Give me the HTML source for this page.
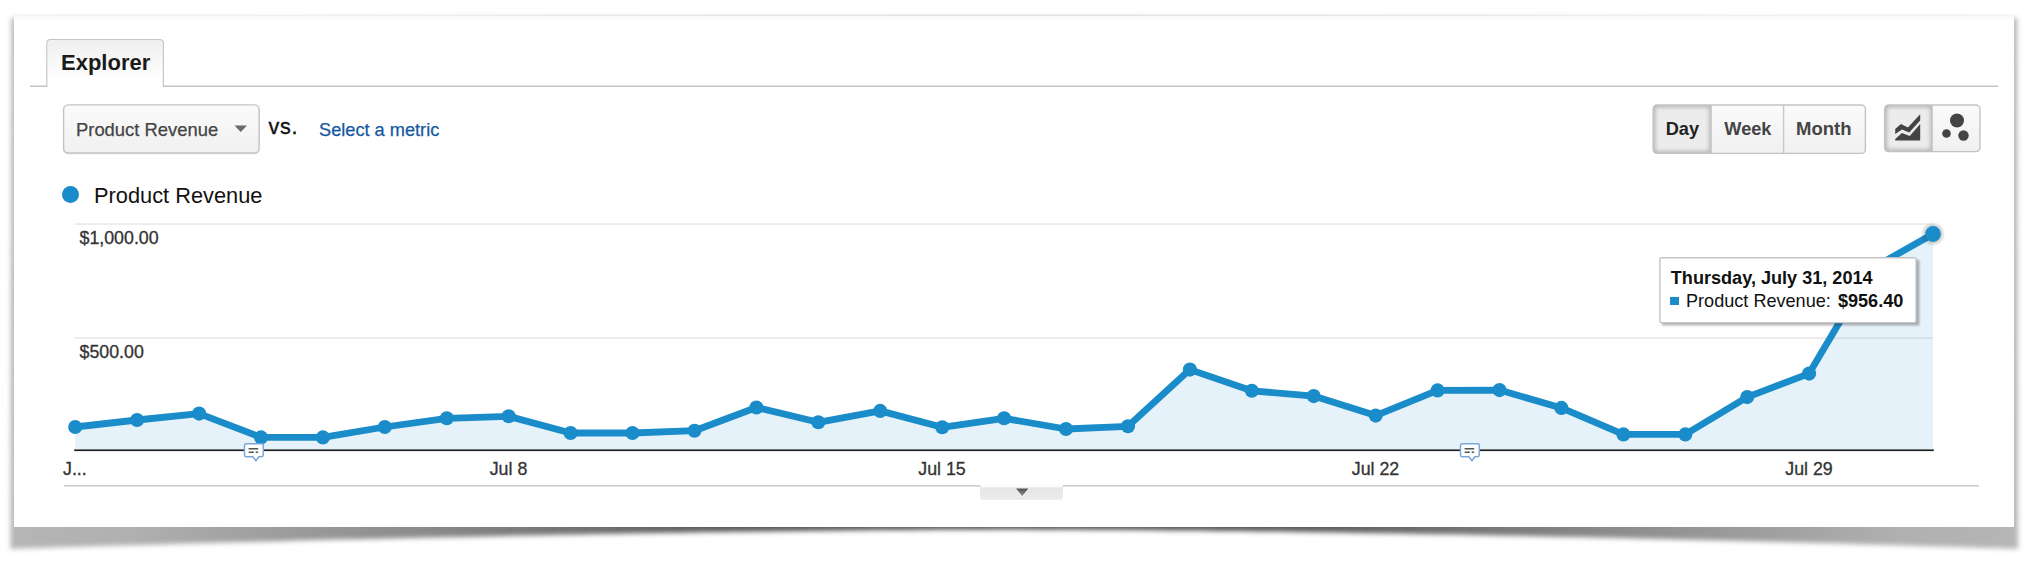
<!DOCTYPE html>
<html><head><meta charset="utf-8"><title>Explorer</title>
<style>
*{box-sizing:border-box;margin:0;padding:0}
html,body{width:2030px;height:566px;background:#fff;overflow:hidden;font-family:"Liberation Sans",sans-serif;color:#222}
.abs{position:absolute}
#sheet{position:absolute;left:14px;top:16.5px;width:2000.3px;height:510.5px;background:#fff;z-index:2}
#shwrap{position:absolute;left:0;top:0;width:2030px;height:566px;z-index:1}
.t{position:absolute;white-space:nowrap;line-height:1}
</style></head><body>
<svg id="shwrap" width="2030" height="566" viewBox="0 0 2030 566">
<defs>
<filter id="bl" x="-5%" y="-50%" width="110%" height="200%"><feGaussianBlur stdDeviation="2.5"/></filter>
<filter id="bl2" x="-5%" y="-50%" width="110%" height="200%"><feGaussianBlur stdDeviation="1.2"/></filter>
<linearGradient id="sg" x1="9" y1="0" x2="2020" y2="0" gradientUnits="userSpaceOnUse">
<stop offset="0" stop-color="#b6b6b6"/><stop offset=".06" stop-color="#b0b0b0"/><stop offset=".2" stop-color="#8c8c8c"/><stop offset=".35" stop-color="#5c5c5c"/><stop offset=".5" stop-color="#4a4a4a"/><stop offset=".65" stop-color="#5c5c5c"/><stop offset=".8" stop-color="#8c8c8c"/><stop offset=".94" stop-color="#b0b0b0"/><stop offset="1" stop-color="#b6b6b6"/>
</linearGradient>
</defs>
<path d="M11.5,18 L2017,18 L2018,548.9 L2000,548.3 L1980,547.7 L1960,547.1 L1940,546.5 L1920,545.9 L1900,545.3 L1880,544.7 L1860,544.2 L1840,543.6 L1820,543.1 L1800,542.5 L1780,542.0 L1760,541.5 L1740,540.9 L1720,540.4 L1700,539.9 L1680,539.4 L1660,539.0 L1640,538.5 L1620,538.0 L1600,537.6 L1580,537.1 L1560,536.7 L1540,536.3 L1520,535.8 L1500,535.4 L1480,535.0 L1460,534.6 L1440,534.3 L1420,533.9 L1400,533.5 L1380,533.2 L1360,532.9 L1340,532.5 L1320,532.2 L1300,531.9 L1280,531.6 L1260,531.4 L1240,531.1 L1220,530.9 L1200,530.6 L1180,530.4 L1160,530.2 L1140,530.0 L1120,529.8 L1100,529.7 L1080,529.6 L1060,529.4 L1040,529.4 L1020,529.3 L1000,529.3 L980,529.4 L960,529.5 L940,529.6 L920,529.7 L900,529.9 L880,530.1 L860,530.3 L840,530.5 L820,530.7 L800,530.9 L780,531.2 L760,531.5 L740,531.8 L720,532.0 L700,532.3 L680,532.7 L660,533.0 L640,533.3 L620,533.7 L600,534.0 L580,534.4 L560,534.8 L540,535.2 L520,535.6 L500,536.0 L480,536.4 L460,536.9 L440,537.3 L420,537.7 L400,538.2 L380,538.7 L360,539.2 L340,539.6 L320,540.1 L300,540.6 L280,541.2 L260,541.7 L240,542.2 L220,542.7 L200,543.3 L180,543.8 L160,544.4 L140,545.0 L120,545.6 L100,546.1 L80,546.7 L60,547.3 L40,547.9 L20,548.6 L10.5,548.9 Z" fill="url(#sg)" filter="url(#bl)"/>
<rect x="14" y="16" width="2000" height="4" fill="#fafafa"/>
</svg>
<div id="sheet"><div style="position:absolute;left:0;top:-.5px;width:100%;height:4px;background:linear-gradient(#f8f8f8,#fcfcfc)"></div></div>
<div style="position:absolute;left:0;top:0;width:2030px;height:566px;z-index:3">
<svg class="abs" style="left:0;top:0" width="2030" height="566" viewBox="0 0 2030 566">
<defs>
<linearGradient id="bg" x1="0" y1="0" x2="0" y2="1"><stop offset="0" stop-color="#fbfbfb"/><stop offset="1" stop-color="#f0f0f0"/></linearGradient>
<linearGradient id="tg" x1="0" y1="0" x2="0" y2="1"><stop offset="0" stop-color="#efefef"/><stop offset=".85" stop-color="#fff"/></linearGradient>
<filter id="ib" x="-20%" y="-20%" width="140%" height="140%"><feGaussianBlur stdDeviation="2.3"/></filter>
<clipPath id="o1"><rect x="1653.1" y="105" width="212.3" height="48.4" rx="4"/></clipPath>
<clipPath id="s1"><rect x="1653.1" y="105" width="58.4" height="48.4"/></clipPath>
<clipPath id="o2"><rect x="1884.6" y="105" width="95.4" height="46.6" rx="4"/></clipPath>
<clipPath id="s2"><rect x="1884.6" y="105" width="48" height="46.6"/></clipPath>
</defs>
<path d="M30,86.2 H46.9 V43.4 Q46.9,39.6 50.7,39.6 H159.5 Q163.3,39.6 163.3,43.4 V86.2 H1998.2" fill="none" stroke="#c4c4c4" stroke-width="1.4"/>
<path d="M47.6,87 V43.4 Q47.6,40.3 50.7,40.3 H159.5 Q162.6,40.3 162.6,43.4 V87Z" fill="url(#tg)"/>

<rect x="63.6" y="105.6" width="195.5" height="48.1" rx="4.5" fill="none" stroke="#000" stroke-opacity=".07" stroke-width="1.4"/>
<rect x="63.6" y="104.9" width="195.5" height="48.1" rx="4.5" fill="url(#bg)" stroke="#c3c3c3" stroke-width="1.4"/>

<rect x="1653.1" y="105" width="212.3" height="48.4" rx="4" fill="url(#bg)"/>
<g clip-path="url(#o1)"><g clip-path="url(#s1)">
<rect x="1653.1" y="105" width="58.4" height="48.4" fill="#ececec"/>
<rect x="1653.1" y="105" width="58.4" height="48.4" fill="none" stroke="#000" stroke-opacity=".3" stroke-width="3.6" filter="url(#ib)"/>
</g></g>
<rect x="1710.3" y="105" width="1.3" height="48.4" fill="#c6c6c6"/>
<rect x="1782.9" y="105" width="1.4" height="48.4" fill="#c8c8c8"/>
<rect x="1653.1" y="105" width="212.3" height="48.4" rx="4" fill="none" stroke="#c3c3c3" stroke-width="1.4"/>

<rect x="1884.6" y="105" width="95.4" height="46.6" rx="4" fill="url(#bg)"/>
<g clip-path="url(#o2)"><g clip-path="url(#s2)">
<rect x="1884.6" y="105" width="48" height="46.6" fill="#ececec"/>
<rect x="1884.6" y="105" width="48" height="46.6" fill="none" stroke="#000" stroke-opacity=".3" stroke-width="3.6" filter="url(#ib)"/>
</g></g>
<rect x="1931.4" y="105" width="1.3" height="46.6" fill="#c6c6c6"/>
<rect x="1884.6" y="105" width="95.4" height="46.6" rx="4" fill="none" stroke="#c3c3c3" stroke-width="1.4"/>
</svg>
<div class="t" style="left:61px;top:52px;font-size:22px;font-weight:bold;color:#1a1a1a">Explorer</div>

<div class="t" style="left:76px;top:121px;font-size:18.4px;color:#444;-webkit-text-stroke:.25px #444">Product Revenue</div>
<svg class="abs" style="left:234.4px;top:125.3px" width="14" height="9"><path d="M0.5,0.5 L13,0.5 L6.75,7.1Z" fill="#6a6a6a"/></svg>
<div class="t" style="left:268.6px;top:116.3px;font-size:21.6px;color:#111;letter-spacing:.7px;-webkit-text-stroke:.35px #111">vs.</div>
<div class="t" style="left:319px;top:121px;font-size:18.2px;color:#15589f;-webkit-text-stroke:.25px #15589f">Select a metric</div>

<div class="t" style="left:1665.7px;top:120.4px;font-size:18.2px;font-weight:bold;color:#222">Day</div>
<div class="t" style="left:1724.3px;top:120.4px;font-size:18.2px;font-weight:bold;color:#444">Week</div>
<div class="t" style="left:1796px;top:120.4px;font-size:18.5px;font-weight:bold;color:#444">Month</div>

<svg class="abs" style="left:1894px;top:113px" width="30" height="30" viewBox="0 0 30 30">
 <path d="M1.2,15.9 L7,11.1 L13.9,14.4 L26.2,1.3 L26.2,7.5 L15.2,19.6 L8,16.5 L1.2,21Z M1.2,26.1 L8,20 L15.7,23.1 L26.2,10.9 L26.2,27.5 L1.2,27.5Z" fill="#444"/>
</svg>
<svg class="abs" style="left:1940px;top:112px" width="32" height="32" viewBox="0 0 32 32">
 <circle cx="17" cy="8.5" r="7" fill="#444"/><circle cx="6.5" cy="21.5" r="4.3" fill="#444"/><circle cx="23.5" cy="23.5" r="5.2" fill="#444"/>
</svg>

<div class="abs" style="left:62px;top:186px;width:17px;height:17px;border-radius:50%;background:#1a8cc9"></div>
<div class="t" style="left:94px;top:184.7px;font-size:21.8px;color:#111">Product Revenue</div>

<svg class="abs" style="left:0;top:0" width="2030" height="566" viewBox="0 0 2030 566">
 <rect x="74.5" y="223.3" width="1858.5" height="1.5" fill="#e8e8e8"/>
 <rect x="74.5" y="337.3" width="1858.5" height="1.5" fill="#e8e8e8"/>
 <polygon points="75.2,450 75.2,427 137.1,420 199.1,413.6 261.0,437.4 322.9,437.4 384.8,427 446.8,418.3 508.7,416.3 570.6,433 632.5,433 694.5,430.7 756.4,407.5 818.3,422.3 880.2,410.9 942.2,427.3 1004.1,418.3 1066.0,429 1128.0,426.3 1189.9,369.6 1251.8,390.8 1313.7,396.1 1375.7,415.6 1437.6,390.4 1499.5,390.1 1561.4,407.9 1623.4,434.4 1685.3,434.4 1747.2,397.1 1809.1,373.6 1871.1,269 1933.0,234 1933.0,450" fill="#1a8cc9" fill-opacity=".11"/>
 <rect x="74.2" y="449.4" width="1859.6" height="1.7" fill="#222"/>
 <rect x="64" y="485.1" width="1915" height="1.5" fill="#cbcbcb"/>
 <polyline points="75.2,427 137.1,420 199.1,413.6 261.0,437.4 322.9,437.4 384.8,427 446.8,418.3 508.7,416.3 570.6,433 632.5,433 694.5,430.7 756.4,407.5 818.3,422.3 880.2,410.9 942.2,427.3 1004.1,418.3 1066.0,429 1128.0,426.3 1189.9,369.6 1251.8,390.8 1313.7,396.1 1375.7,415.6 1437.6,390.4 1499.5,390.1 1561.4,407.9 1623.4,434.4 1685.3,434.4 1747.2,397.1 1809.1,373.6 1871.1,269 1933.0,234" fill="none" stroke="#1a8cc9" stroke-width="6.8" stroke-linejoin="round" stroke-linecap="round"/>
 <g fill="#1a8cc9"><circle cx="75.2" cy="427" r="7.05"/><circle cx="137.1" cy="420" r="7.05"/><circle cx="199.1" cy="413.6" r="7.05"/><circle cx="261.0" cy="437.4" r="7.05"/><circle cx="322.9" cy="437.4" r="7.05"/><circle cx="384.8" cy="427" r="7.05"/><circle cx="446.8" cy="418.3" r="7.05"/><circle cx="508.7" cy="416.3" r="7.05"/><circle cx="570.6" cy="433" r="7.05"/><circle cx="632.5" cy="433" r="7.05"/><circle cx="694.5" cy="430.7" r="7.05"/><circle cx="756.4" cy="407.5" r="7.05"/><circle cx="818.3" cy="422.3" r="7.05"/><circle cx="880.2" cy="410.9" r="7.05"/><circle cx="942.2" cy="427.3" r="7.05"/><circle cx="1004.1" cy="418.3" r="7.05"/><circle cx="1066.0" cy="429" r="7.05"/><circle cx="1128.0" cy="426.3" r="7.05"/><circle cx="1189.9" cy="369.6" r="7.05"/><circle cx="1251.8" cy="390.8" r="7.05"/><circle cx="1313.7" cy="396.1" r="7.05"/><circle cx="1375.7" cy="415.6" r="7.05"/><circle cx="1437.6" cy="390.4" r="7.05"/><circle cx="1499.5" cy="390.1" r="7.05"/><circle cx="1561.4" cy="407.9" r="7.05"/><circle cx="1623.4" cy="434.4" r="7.05"/><circle cx="1685.3" cy="434.4" r="7.05"/><circle cx="1747.2" cy="397.1" r="7.05"/><circle cx="1809.1" cy="373.6" r="7.05"/><circle cx="1871.1" cy="269" r="7.05"/></g>
 <circle cx="1933.0" cy="234" r="10.6" fill="#333" opacity=".2" filter="url(#bl2)"/>
 <circle cx="1933.0" cy="234" r="7.9" fill="#1a8cc9"/>
 <rect x="1662" y="260" width="257.3" height="65.4" fill="#000" opacity=".3" filter="url(#bl2)"/>
 <rect x="1659.9" y="257.7" width="256.2" height="64.9" rx="1.5" fill="#fff" stroke="#c4c4c4" stroke-width="1.4"/>
</svg>
<div class="t" style="left:79.5px;top:230.3px;font-size:17.8px;color:#333;-webkit-text-stroke:.3px #333">$1,000.00</div>
<div class="t" style="left:79.5px;top:344px;font-size:17.8px;color:#333;-webkit-text-stroke:.3px #333">$500.00</div>
<div class="t" style="left:63px;top:460.8px;font-size:17.8px;color:#333;-webkit-text-stroke:.3px #333">J...</div>
<div class="t" style="left:508.5px;top:460.8px;font-size:17.8px;color:#333;-webkit-text-stroke:.3px #333;transform:translateX(-50%)">Jul 8</div>
<div class="t" style="left:942px;top:460.8px;font-size:17.8px;color:#333;-webkit-text-stroke:.3px #333;transform:translateX(-50%)">Jul 15</div>
<div class="t" style="left:1375.5px;top:460.8px;font-size:17.8px;color:#333;-webkit-text-stroke:.3px #333;transform:translateX(-50%)">Jul 22</div>
<div class="t" style="left:1809px;top:460.8px;font-size:17.8px;color:#333;-webkit-text-stroke:.3px #333;transform:translateX(-50%)">Jul 29</div>

<svg class="abs" style="left:243px;top:442px" width="22" height="21" viewBox="0 0 22 21"><path d="M3.2,1.8 H18.6 Q20.3,1.8 20.3,3.5 V13 Q20.3,14.7 18.6,14.7 H15.8 L12.9,18.8 L10,14.7 H3.2 Q1.5,14.7 1.5,13 V3.5 Q1.5,1.8 3.2,1.8Z" fill="#fff" stroke="#7ba6d6" stroke-width="1.5"/><path d="M5.6,6.7 H15.2 M5.6,10.2 H10.8 M12.7,10.2 H15.2" stroke="#555" stroke-width="1.6"/></svg>
<svg class="abs" style="left:1459px;top:442px" width="22" height="21" viewBox="0 0 22 21"><path d="M3.2,1.8 H18.6 Q20.3,1.8 20.3,3.5 V13 Q20.3,14.7 18.6,14.7 H15.8 L12.9,18.8 L10,14.7 H3.2 Q1.5,14.7 1.5,13 V3.5 Q1.5,1.8 3.2,1.8Z" fill="#fff" stroke="#7ba6d6" stroke-width="1.5"/><path d="M5.6,6.7 H15.2 M5.6,10.2 H10.8 M12.7,10.2 H15.2" stroke="#555" stroke-width="1.6"/></svg>

<div class="abs" style="left:979.8px;top:485.2px;width:83.5px;height:13.9px;background:linear-gradient(#fcfcfc 0,#fcfcfc 1.6px,#e6e6e6 3px,#ebebeb 100%);border:1px solid #e9e9e9;border-top:none;border-radius:0 0 3px 3px;box-shadow:0 1px 0 #efefef"></div>
<svg class="abs" style="left:1014px;top:486.5px" width="17" height="12" viewBox="0 0 17 12"><defs><linearGradient id="ag" x1="0" y1="0" x2="0" y2="1"><stop offset="0" stop-color="#4d4d4d"/><stop offset="1" stop-color="#9a9a9a"/></linearGradient></defs><path d="M1,1.2 L15.4,1.2 L8.2,10.4Z" fill="#fff" opacity=".9"/><path d="M2,1.5 L14.4,1.5 L8.2,9.3Z" fill="url(#ag)"/></svg>

<div class="t" style="left:1670.8px;top:269px;font-size:18.1px;font-weight:bold;color:#111">Thursday, July 31, 2014</div>
<div class="abs" style="left:1670.3px;top:296.8px;width:8.8px;height:8.2px;background:#1a8cc9"></div>
<div class="t" style="left:1686px;top:292px;font-size:18.1px;color:#111">Product Revenue: <b style="margin-left:2px">$956.40</b></div>
</div>
</body></html>
